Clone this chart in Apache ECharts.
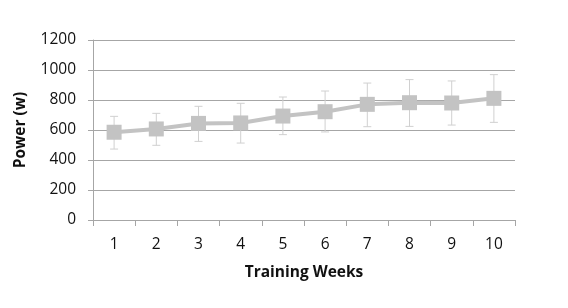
<!DOCTYPE html>
<html>
<head>
<meta charset="utf-8">
<script src="https://cdn.jsdelivr.net/npm/echarts@6/dist/echarts.min.js"></script>
<style>
  html, body { margin: 0; padding: 0; background: #fff; }
  #chart { width: 568px; height: 308px; }
</style>
</head>
<body>
<div id="chart"></div>
<script>
// data
const weeks = ['1', '2', '3', '4', '5', '6', '7', '8', '9', '10']
const power = [585, 607, 644, 647, 693, 722, 771, 782, 780, 811]
const powerHigh = [691, 711, 758, 778, 820, 860, 913, 936, 927, 969]
const powerLow = [473, 498, 524, 513, 569, 587, 622, 624, 633, 651]
const yTicks = [0, 200, 400, 600, 800, 1000, 1200]

const chart = echarts.init(document.getElementById('chart'))
const font = 'Open Sans, Liberation Sans, sans-serif'

const errData = weeks.map((w, i) => [i, powerLow[i], powerHigh[i]])

chart.setOption({
  animation: false,
  grid: { left: 93, right: 53, top: 40, bottom: 88 },
  xAxis: {
    type: 'category',
    data: weeks,
    boundaryGap: true,
    name: 'Training Weeks',
    nameLocation: 'middle',
    nameGap: 45,
    nameTextStyle: { fontFamily: font, fontSize: 15.5, fontWeight: 'bold', color: '#111' },
    axisLine: { lineStyle: { color: '#a6a6a6', width: 1 } },
    axisTick: { show: true, alignWithLabel: false, length: 6, lineStyle: { color: '#a6a6a6' } },
    axisLabel: { fontFamily: font, fontSize: 15.5, color: '#111', margin: 17 }
  },
  yAxis: {
    type: 'value',
    min: yTicks[0],
    max: yTicks[yTicks.length - 1],
    interval: 200,
    name: 'Power (w)',
    nameLocation: 'middle',
    nameGap: 64,
    nameTextStyle: { fontFamily: font, fontSize: 15.5, fontWeight: 'bold', color: '#111' },
    axisLine: { show: true, lineStyle: { color: '#a6a6a6', width: 1 } },
    axisTick: { show: true, length: 5, lineStyle: { color: '#a6a6a6' } },
    axisLabel: { fontFamily: font, fontSize: 15.5, color: '#111', margin: 17, formatter: v => String(v) },
    splitLine: { lineStyle: { color: '#a6a6a6', width: 1 } }
  },
  series: [
    {
      type: 'custom',
      data: errData,
      z: 1,
      renderItem: function (params, api) {
        const x = api.value(0)
        const lo = api.coord([x, api.value(1)])
        const hi = api.coord([x, api.value(2)])
        const cap = 4
        const style = { stroke: '#d0d0d0', lineWidth: 1 }
        return {
          type: 'group',
          children: [
            { type: 'line', shape: { x1: lo[0], y1: lo[1], x2: hi[0], y2: hi[1] }, style: style },
            { type: 'line', shape: { x1: lo[0] - cap, y1: lo[1], x2: lo[0] + cap, y2: lo[1] }, style: style },
            { type: 'line', shape: { x1: hi[0] - cap, y1: hi[1], x2: hi[0] + cap, y2: hi[1] }, style: style }
          ]
        }
      }
    },
    {
      type: 'line',
      data: power,
      z: 2,
      symbol: 'rect',
      symbolSize: 15,
      lineStyle: { color: '#c3c3c3', width: 4 },
      itemStyle: { color: '#c3c3c3' }
    }
  ]
})
</script>
</body>
</html>
